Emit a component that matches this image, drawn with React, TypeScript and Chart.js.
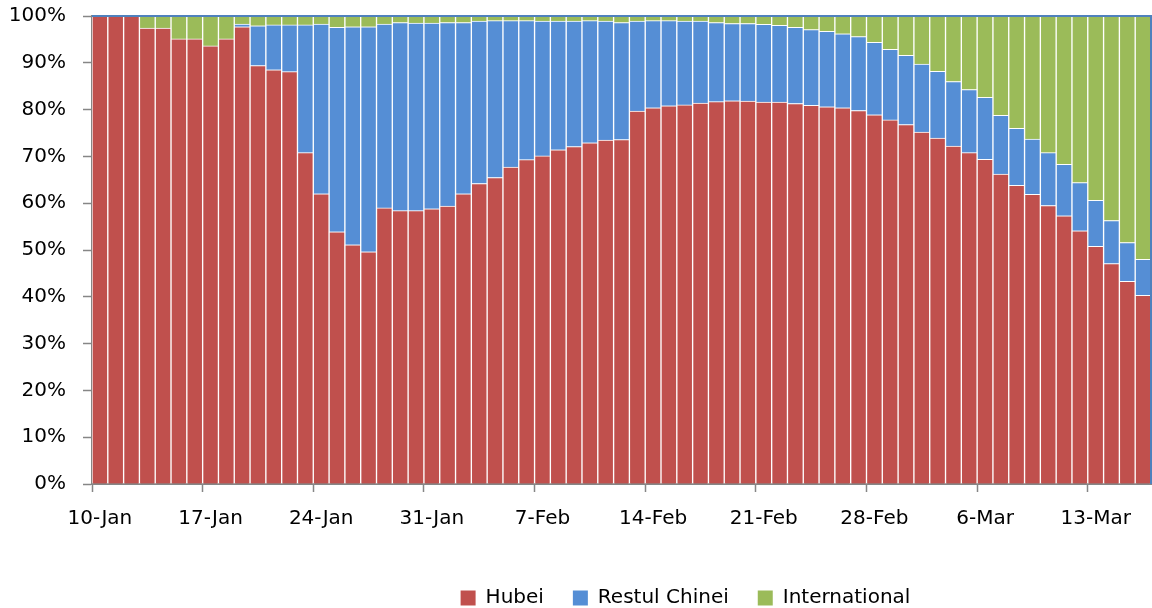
import React, { useEffect, useRef } from 'react';
import { Chart, registerables } from 'chart.js';

Chart.register(...registerables);

const categories = [
  '10-Jan', '11-Jan', '12-Jan', '13-Jan', '14-Jan', '15-Jan', '16-Jan', '17-Jan', '18-Jan', '19-Jan',
  '20-Jan', '21-Jan', '22-Jan', '23-Jan', '24-Jan', '25-Jan', '26-Jan', '27-Jan', '28-Jan', '29-Jan',
  '30-Jan', '31-Jan',
  '1-Feb', '2-Feb', '3-Feb', '4-Feb', '5-Feb', '6-Feb', '7-Feb', '8-Feb', '9-Feb', '10-Feb',
  '11-Feb', '12-Feb', '13-Feb', '14-Feb', '15-Feb', '16-Feb', '17-Feb', '18-Feb', '19-Feb', '20-Feb',
  '21-Feb', '22-Feb', '23-Feb', '24-Feb', '25-Feb', '26-Feb', '27-Feb', '28-Feb', '29-Feb',
  '1-Mar', '2-Mar', '3-Mar', '4-Mar', '5-Mar', '6-Mar', '7-Mar', '8-Mar', '9-Mar', '10-Mar',
  '11-Mar', '12-Mar', '13-Mar', '14-Mar', '15-Mar', '16-Mar',
];

const shownTicks = ['10-Jan', '17-Jan', '24-Jan', '31-Jan', '7-Feb', '14-Feb', '21-Feb', '28-Feb', '6-Mar', '13-Mar'];

const hubei = [
  100, 100, 100, 97.4, 97.4, 95.1, 95.1, 93.6, 95.1, 97.7,
  89.4, 88.5, 88.1, 70.8, 62.0, 53.9, 51.1, 49.6, 59.0, 58.4,
  58.4, 58.8, 59.4, 62.0, 64.2, 65.5, 67.7, 69.3, 70.1, 71.4,
  72.1, 72.9, 73.5, 73.6, 79.7, 80.4, 80.8, 81.0, 81.4, 81.7,
  81.9, 81.8, 81.6, 81.6, 81.3, 80.9, 80.6, 80.4, 79.8, 78.9,
  77.8, 76.8, 75.2, 73.9, 72.2, 70.8, 69.4, 66.2, 63.8, 61.9,
  59.5, 57.3, 54.1, 50.8, 47.1, 43.3, 40.3,
];

const restulChinei = [
  0, 0, 0, 0, 0, 0, 0, 0, 0, 0.6,
  8.5, 9.6, 10.0, 27.3, 36.3, 43.7, 46.6, 48.1, 39.3, 40.2,
  40.1, 39.7, 39.2, 36.6, 34.7, 33.5, 31.3, 29.7, 28.8, 27.5,
  26.8, 26.1, 25.4, 25.0, 19.2, 18.6, 18.2, 17.9, 17.5, 16.9,
  16.5, 16.6, 16.6, 16.4, 16.3, 16.2, 16.1, 15.8, 15.8, 15.5,
  15.1, 14.8, 14.5, 14.3, 13.8, 13.5, 13.2, 12.6, 12.2, 11.8,
  11.3, 11.0, 10.3, 9.8, 9.2, 8.3, 7.7,
];

const international = [
  0, 0, 0, 2.6, 2.6, 4.9, 4.9, 6.4, 4.9, 1.7,
  2.1, 1.9, 1.9, 1.9, 1.7, 2.4, 2.3, 2.3, 1.7, 1.4,
  1.5, 1.5, 1.4, 1.4, 1.1, 1.0, 1.0, 1.0, 1.1, 1.1,
  1.1, 1.0, 1.1, 1.4, 1.1, 1.0, 1.0, 1.1, 1.1, 1.4,
  1.6, 1.6, 1.8, 2.0, 2.4, 2.9, 3.3, 3.8, 4.4, 5.6,
  7.1, 8.4, 10.3, 11.8, 14.0, 15.7, 17.4, 21.2, 24.0, 26.3,
  29.2, 31.7, 35.6, 39.4, 43.7, 48.4, 52.0,
];

const seriesNames = ['Hubei', 'Restul Chinei', 'International'];
const seriesColors = ['#C0504D', '#558ED5', '#9BBB59'];

const FONT = 'DejaVu Sans';
const AXIS_GRAY = '#868686';

const plotBorder = {
  id: 'plotBorder',
  afterDatasetsDraw(chart: any) {
    const { ctx, chartArea } = chart;
    ctx.save();
    ctx.strokeStyle = '#4F81BD';
    ctx.lineWidth = 2;
    ctx.beginPath();
    ctx.moveTo(chartArea.left, chartArea.top);
    ctx.lineTo(chartArea.right, chartArea.top);
    ctx.lineTo(chartArea.right, chartArea.bottom);
    ctx.stroke();
    ctx.restore();
  },
};

const legendShift = {
  id: 'legendShift',
  afterLayout(chart: any) {
    const lg = chart.legend;
    if (lg) {
      lg.left = 220;
      lg.right = 1151;
      lg.width = lg.right - lg.left;
    }
  },
};

export default function App() {
  const canvasRef = useRef<HTMLCanvasElement | null>(null);

  useEffect(() => {
    if (!canvasRef.current) return;
    const data = [hubei, restulChinei, international];
    const chart = new Chart(canvasRef.current, {
      type: 'bar',
      data: {
        labels: categories,
        datasets: seriesNames.map((name, i) => ({
          label: name,
          data: data[i],
          backgroundColor: seriesColors[i],
          borderColor: 'rgba(255,255,255,0.92)',
          borderWidth: 1,
          barPercentage: 1,
          categoryPercentage: 1,
        })),
      },
      options: {
        responsive: false,
        animation: false,
        devicePixelRatio: 1,
        layout: { padding: { top: 16, right: 1, bottom: -10, left: 0 } },
        plugins: {
          tooltip: { enabled: false },
          legend: {
            position: 'bottom',
            labels: {
              boxWidth: 15,
              boxHeight: 15,
              padding: 29,
              color: '#000',
              font: { family: FONT, size: 20 },
              generateLabels: (c: any) =>
                c.data.datasets.map((ds: any, i: number) => ({
                  text: ds.label,
                  fillStyle: ds.backgroundColor,
                  strokeStyle: ds.backgroundColor,
                  lineWidth: 0,
                  hidden: false,
                  datasetIndex: i,
                  fontColor: '#000',
                })),
            },
          },
        },
        scales: {
          x: {
            stacked: true,
            z: 1,
            offset: true,
            afterFit: (s: any) => {
              s.height = 75;
              s.paddingLeft = 0;
              s.paddingRight = 0;
            },
            grid: {
              offset: true,
              drawOnChartArea: false,
              drawTicks: true,
              tickLength: 8,
              tickWidth: 1.5,
              color: (ctx: any) =>
                ctx.tick && ctx.tick.label ? AXIS_GRAY : 'rgba(0,0,0,0)',
            },
            border: { display: true, color: AXIS_GRAY, width: 2 },
            ticks: {
              autoSkip: false,
              maxRotation: 0,
              minRotation: 0,
              padding: 15,
              color: '#000',
              font: { family: FONT, size: 20 },
              callback: (_v: any, index: number) => {
                const l = categories[index];
                return shownTicks.includes(l) ? l : '';
              },
            },
          },
          y: {
            stacked: true,
            z: 1,
            min: 0,
            max: 100,
            afterFit: (s: any) => {
              s.width = 92;
              s.paddingTop = 0;
              s.paddingBottom = 0;
            },
            grid: {
              drawOnChartArea: false,
              drawTicks: true,
              tickLength: 9,
              tickWidth: 1.5,
              color: AXIS_GRAY,
            },
            border: { display: true, color: AXIS_GRAY, width: 2 },
            ticks: {
              stepSize: 10,
              padding: 17,
              color: '#000',
              font: { family: FONT, size: 20 },
              callback: (v: any) => v + '%',
            },
          },
        },
      },
      plugins: [plotBorder, legendShift],
    } as any);
    return () => chart.destroy();
  }, []);

  return (
    <div style={{ position: 'fixed', left: 0, top: 0, width: 1152, height: 608, background: '#fff' }}>
      <canvas ref={canvasRef} width={1152} height={608} style={{ display: 'block' }} />
    </div>
  );
}
